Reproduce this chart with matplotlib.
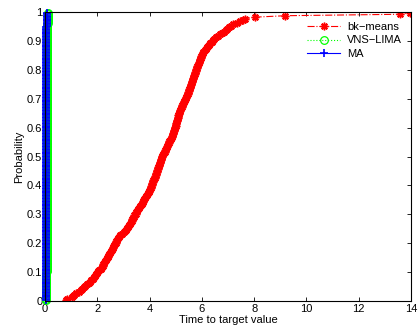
import numpy as np
import matplotlib
matplotlib.use("Agg")
import matplotlib.pyplot as plt

plt.rcParams['font.family'] = ['Liberation Sans', 'DejaVu Sans']
plt.rcParams['font.size'] = 8

# sorted run times (seconds) to reach the target, 200 runs per method
bk_means = [
    0.80, 0.84, 1.02, 1.06,
    1.12, 1.20, 1.28, 1.36, 1.42,
    1.49, 1.54, 1.60, 1.66, 1.71, 1.77, 1.82,
    1.86, 1.90, 1.95, 1.99, 2.03, 2.07, 2.12, 2.16, 2.20,
    2.23, 2.26, 2.29, 2.33, 2.36, 2.39, 2.42, 2.45, 2.49, 2.52, 2.55, 2.58,
    2.61, 2.64, 2.67, 2.70, 2.73, 2.76, 2.79, 2.82, 2.86,
    2.93, 3.00, 3.06, 3.11, 3.15,
    3.19, 3.22, 3.25, 3.28, 3.31, 3.33, 3.36,
    3.39, 3.42, 3.46, 3.49, 3.53, 3.56, 3.59, 3.63, 3.66, 3.70,
    3.73, 3.76, 3.80, 3.83, 3.86, 3.89, 3.93, 3.96, 3.99,
    4.02, 4.04, 4.06, 4.08, 4.10, 4.12, 4.14,
    4.17, 4.19, 4.21, 4.23, 4.25, 4.27, 4.29, 4.31, 4.33, 4.35,
    4.37, 4.39, 4.41, 4.43, 4.45, 4.47, 4.49, 4.51,
    4.54, 4.57, 4.59, 4.62, 4.65, 4.68, 4.70, 4.73, 4.76, 4.79, 4.81, 4.84, 4.87, 4.89,
    4.91, 4.93, 4.94, 4.96, 4.98, 4.99, 5.01, 5.02, 5.04, 5.06, 5.07, 5.09, 5.10, 5.12, 5.14, 5.15,
    5.17, 5.20, 5.22, 5.25, 5.28, 5.31, 5.33, 5.36,
    5.39, 5.41, 5.43, 5.45, 5.47, 5.49, 5.51, 5.53, 5.55, 5.57, 5.59, 5.61, 5.63, 5.65, 5.67, 5.69, 5.71, 5.73,
    5.75, 5.77, 5.79, 5.81, 5.83, 5.86, 5.88, 5.90, 5.92, 5.94, 5.96, 5.98, 6.00, 6.03,
    6.06, 6.10, 6.15, 6.19, 6.23, 6.28, 6.32, 6.37,
    6.41, 6.48, 6.55, 6.62, 6.69, 6.77,
    6.84, 6.91, 6.98, 7.05, 7.12,
    7.20, 7.33, 7.47,
    7.56, 7.65,
    8.03, 9.20, 13.60, 13.96,
]

vns_lima = [
    0.05, 0.05, 0.05, 0.05, 0.05, 0.05, 0.05, 0.05, 0.05, 0.05, 0.05, 0.05, 0.05, 0.05, 0.05, 0.05, 0.05, 0.05, 0.05, 0.05,
    0.06, 0.06, 0.06, 0.06, 0.06, 0.06, 0.06, 0.06, 0.06, 0.06, 0.06, 0.06, 0.06, 0.06, 0.06, 0.06, 0.06, 0.06, 0.06, 0.06,
    0.06, 0.06, 0.06, 0.06, 0.06, 0.06, 0.06, 0.06, 0.06, 0.06, 0.06, 0.06, 0.06, 0.06, 0.06, 0.06, 0.06, 0.06, 0.06, 0.06,
    0.07, 0.07, 0.07, 0.07, 0.07, 0.07, 0.07, 0.07, 0.07, 0.07, 0.07, 0.07, 0.07, 0.07, 0.07, 0.07, 0.07, 0.07, 0.07, 0.07,
    0.07, 0.07, 0.07, 0.07, 0.07, 0.07, 0.07, 0.07, 0.07, 0.07, 0.07, 0.07, 0.07, 0.07, 0.07, 0.07, 0.07, 0.07, 0.07, 0.07,
    0.07, 0.07, 0.07, 0.07, 0.07, 0.07, 0.07, 0.07, 0.07, 0.07, 0.07, 0.07, 0.07, 0.07, 0.07, 0.07, 0.07, 0.07, 0.07, 0.07,
    0.08, 0.08, 0.08, 0.08, 0.08, 0.08, 0.08, 0.08, 0.08, 0.08, 0.08, 0.08, 0.08, 0.08, 0.08, 0.08, 0.08, 0.08, 0.08, 0.08,
    0.08, 0.08, 0.08, 0.08, 0.08, 0.08, 0.08, 0.08, 0.08, 0.08, 0.08, 0.08, 0.08, 0.08, 0.08, 0.08, 0.08, 0.08, 0.08, 0.08,
    0.08, 0.08, 0.08, 0.08, 0.08, 0.08, 0.08, 0.08, 0.08, 0.08, 0.09, 0.09, 0.09, 0.09, 0.09, 0.09, 0.09, 0.09, 0.09, 0.09,
    0.09, 0.09, 0.09, 0.09, 0.09, 0.09, 0.09, 0.09, 0.09, 0.09, 0.09, 0.09, 0.10, 0.10, 0.10, 0.10, 0.10, 0.10, 0.10, 0.10,
]

ma = [
    0.02, 0.02, 0.02, 0.02, 0.02, 0.02, 0.02, 0.02, 0.02, 0.02, 0.02, 0.02, 0.02, 0.02, 0.02, 0.02, 0.02, 0.02, 0.02, 0.02,
    0.03, 0.03, 0.03, 0.03, 0.03, 0.03, 0.03, 0.03, 0.03, 0.03, 0.03, 0.03, 0.03, 0.03, 0.03, 0.03, 0.03, 0.03, 0.03, 0.03,
    0.03, 0.03, 0.03, 0.03, 0.03, 0.03, 0.03, 0.03, 0.03, 0.03, 0.03, 0.03, 0.03, 0.03, 0.03, 0.03, 0.03, 0.03, 0.03, 0.03,
    0.03, 0.03, 0.03, 0.03, 0.03, 0.03, 0.03, 0.03, 0.03, 0.03, 0.03, 0.03, 0.03, 0.03, 0.03, 0.03, 0.03, 0.03, 0.03, 0.03,
    0.04, 0.04, 0.04, 0.04, 0.04, 0.04, 0.04, 0.04, 0.04, 0.04, 0.04, 0.04, 0.04, 0.04, 0.04, 0.04, 0.04, 0.04, 0.04, 0.04,
    0.04, 0.04, 0.04, 0.04, 0.04, 0.04, 0.04, 0.04, 0.04, 0.04, 0.04, 0.04, 0.04, 0.04, 0.04, 0.04, 0.04, 0.04, 0.04, 0.04,
    0.04, 0.04, 0.04, 0.04, 0.04, 0.04, 0.04, 0.04, 0.04, 0.04, 0.04, 0.04, 0.04, 0.04, 0.04, 0.04, 0.04, 0.04, 0.04, 0.04,
    0.04, 0.04, 0.04, 0.04, 0.04, 0.04, 0.04, 0.04, 0.04, 0.04, 0.05, 0.05, 0.05, 0.05, 0.05, 0.05, 0.05, 0.05, 0.05, 0.05,
    0.05, 0.05, 0.05, 0.05, 0.05, 0.05, 0.05, 0.05, 0.05, 0.05, 0.05, 0.05, 0.05, 0.05, 0.05, 0.05, 0.05, 0.05, 0.05, 0.05,
    0.05, 0.05, 0.05, 0.05, 0.05, 0.05, 0.05, 0.05, 0.05, 0.05, 0.06, 0.06, 0.06, 0.06, 0.06, 0.06, 0.06, 0.06, 0.06, 0.06,
]


def ttt(times):
    t = np.sort(np.asarray(times))
    n = len(t)
    p = (np.arange(1, n + 1) - 0.5) / n
    return t, p


fig = plt.figure(figsize=(4.18, 3.36), dpi=100)
ax = fig.add_axes([0.108, 0.104, 0.875, 0.86])

t, p = ttt(bk_means)
ax.plot(t, p, color='red', linestyle='-.', linewidth=0.8,
        marker=(8, 2, 0), markersize=5.5, markeredgewidth=1.1, label='bk\u2212means')
t, p = ttt(vns_lima)
ax.plot(t, p, color='#00ff00', linestyle=':', linewidth=0.8,
        marker='o', markersize=5.5, markerfacecolor='none', markeredgewidth=0.9,
        label='VNS\u2212LIMA', clip_on=False)
t, p = ttt(ma)
ax.plot(t, p, color='blue', linestyle='-', linewidth=0.8,
        marker='+', markersize=6, markeredgewidth=1.2, label='MA', clip_on=False)

ax.set_xlim(0, 14)
ax.set_ylim(0, 1)
ax.set_xticks(np.arange(0, 15, 2))
ax.set_yticks(np.arange(0, 1.01, 0.1))
ax.set_yticklabels(['0', '0.1', '0.2', '0.3', '0.4', '0.5', '0.6', '0.7', '0.8', '0.9', '1'])
ax.tick_params(direction='in', top=True, right=True, length=3, width=0.6, pad=2)
for s in ax.spines.values():
    s.set_linewidth(0.8)

ax.set_xlabel('Time to target value', labelpad=1)
ax.set_ylabel('Probability', labelpad=2)

leg = ax.legend(loc='upper right', bbox_to_anchor=(1.0, 0.996), frameon=True,
                fancybox=False, edgecolor='white', facecolor='white', framealpha=1,
                handlelength=3.0, handletextpad=0.6, labelspacing=0.3,
                borderpad=0.3, fontsize=8)
leg.set_zorder(5)

fig.savefig('out.png', dpi=100)
